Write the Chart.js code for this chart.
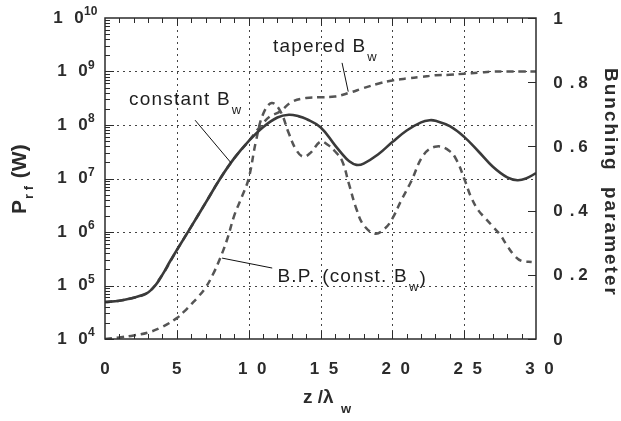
<!DOCTYPE html>
<html>
<head>
<meta charset="utf-8">
<script src="https://cdn.jsdelivr.net/npm/chart.js@4.4.1/dist/chart.umd.min.js"></script>
<style>
  html, body { margin: 0; padding: 0; background: #fff; }
</style>
</head>
<body>
<canvas id="myChart" width="621" height="421"></canvas>
<script>
// z / lambda_w positions and values
var zConst = [0,1,2,2.5,3,3.5,4,4.5,5,6,7,8,9,10,11,12,12.8,13.5,14,15,16,16.5,17,17.5,18,19,20,21,22,22.6,23,24,25,26,27,28,28.7,29.3,30];
var pConst = [4.9e4,5.2e4,5.9e4,6.5e4,7.4e4,1.0e5,1.6e5,2.75e5,4.6e5,1.26e6,3.5e6,9.8e6,2.4e7,5.0e7,9.1e7,1.38e8,1.55e8,1.45e8,1.3e8,9.1e7,4.2e7,2.9e7,2.1e7,1.8e7,1.9e7,2.8e7,4.8e7,7.9e7,1.12e8,1.23e8,1.2e8,9.5e7,6.0e7,3.2e7,1.66e7,1.05e7,9.3e6,1.0e7,1.26e7];

var zTaper = [0,1,2,3,4,5,6,7,8,9,10,10.5,11,11.5,12.2,13,14,15,16,17,18,19,20,21,22,23,24,25,26,27,28,29,30];
var pTaper = [4.9e4,5.2e4,5.9e4,7.4e4,1.6e5,4.6e5,1.26e6,3.5e6,9.8e6,2.4e7,5.0e7,7.4e7,1.08e8,1.45e8,1.8e8,2.7e8,3.2e8,3.3e8,3.4e8,4.0e8,4.9e8,5.9e8,6.8e8,7.4e8,7.9e8,8.5e8,8.7e8,9.1e8,9.5e8,1.0e9,1.0e9,1.0e9,1.0e9];

var zBunch = [0,1,2,3,4,5,5.5,6,6.5,7,7.5,8,8.5,9,9.5,10,10.5,11,11.6,12.2,12.8,13.3,13.8,14.3,15,15.5,16,16.5,17,17.5,18,18.8,19.5,20,20.6,21.3,22.2,23.1,24,24.5,25,25.5,26,26.5,27,27.5,28,28.5,29,29.7];
var bunch = [0,0.005,0.011,0.02,0.038,0.065,0.085,0.108,0.132,0.16,0.2,0.25,0.31,0.385,0.44,0.5,0.615,0.7,0.735,0.71,0.64,0.59,0.568,0.58,0.615,0.605,0.585,0.555,0.48,0.405,0.355,0.328,0.345,0.375,0.43,0.49,0.575,0.6,0.585,0.555,0.5,0.44,0.4,0.375,0.35,0.325,0.29,0.26,0.243,0.24];

// tick labels
var xTicks = [0, 5, 10, 15, 20, 25, 30];
var yExponents = [4, 5, 6, 7, 8, 9, 10];
var y2Ticks = [0, 0.2, 0.4, 0.6, 0.8, 1];
var y2Labels = ["0", "0 . 2", "0 . 4", "0 . 6", "0 . 8", "1"];

function pts(xs, ys) {
  return xs.map(function (x, i) { return { x: x, y: ys[i] }; });
}

var INK = "#2b2b2b";
var FONT = '"Liberation Sans", Arial, sans-serif';

// helper: text with a subscript, then optional trailing text
function subText(ctx, x, y, main, sub, tail, size, spacing) {
  ctx.font = size + "px " + FONT;
  ctx.letterSpacing = spacing;
  ctx.fillText(main, x, y);
  var w = ctx.measureText(main).width;
  ctx.font = Math.round(size * 0.7) + "px " + FONT;
  ctx.fillText(sub, x + w + 1, y + 9);
  var ws = ctx.measureText(sub).width;
  if (tail) {
    ctx.font = size + "px " + FONT;
    ctx.fillText(tail, x + w + ws + 1, y + 2);
  }
  ctx.letterSpacing = "0px";
}

var paper = {
  id: "paper",
  beforeDatasetsDraw: function (chart) {
    var ctx = chart.ctx, a = chart.chartArea;
    var x = chart.scales.x, y = chart.scales.y;
    ctx.save();
    ctx.strokeStyle = "#444";
    ctx.lineWidth = 1;
    ctx.setLineDash([2, 4]);
    [5, 10, 15, 20, 25].forEach(function (v) {
      var px = Math.round(x.getPixelForValue(v)) + 0.5;
      ctx.beginPath(); ctx.moveTo(px, a.top); ctx.lineTo(px, a.bottom); ctx.stroke();
    });
    [5, 6, 7, 8, 9].forEach(function (e) {
      var py = Math.round(y.getPixelForValue(Math.pow(10, e))) + 0.5;
      ctx.beginPath(); ctx.moveTo(a.left, py); ctx.lineTo(a.right, py); ctx.stroke();
    });
    ctx.restore();
  },
  afterDatasetsDraw: function (chart) {
    var ctx = chart.ctx, a = chart.chartArea;
    var x = chart.scales.x, y = chart.scales.y, y2 = chart.scales.y2;
    ctx.save();
    ctx.setLineDash([]);
    ctx.strokeStyle = INK;

    // frame
    ctx.lineWidth = 1.5;
    ctx.strokeRect(a.left, a.top, a.right - a.left, a.bottom - a.top);

    // minor ticks on x (top and bottom)
    ctx.lineWidth = 1;
    for (var i = 1; i < 30; i++) {
      var px = Math.round(x.getPixelForValue(i)) + 0.5;
      var len = i % 5 === 0 ? 8 : 5;
      ctx.beginPath();
      ctx.moveTo(px, a.bottom); ctx.lineTo(px, a.bottom - len);
      ctx.moveTo(px, a.top); ctx.lineTo(px, a.top + len);
      ctx.stroke();
    }
    // log ticks on the left
    for (var e = 4; e < 10; e++) {
      for (var m = 1; m <= 9; m++) {
        var py = Math.round(y.getPixelForValue(m * Math.pow(10, e))) + 0.5;
        var l = m === 1 ? 9 : 5;
        ctx.beginPath(); ctx.moveTo(a.left, py); ctx.lineTo(a.left + l, py); ctx.stroke();
      }
    }
    // right axis ticks
    y2Ticks.forEach(function (v) {
      var py = Math.round(y2.getPixelForValue(v)) + 0.5;
      ctx.beginPath(); ctx.moveTo(a.right, py); ctx.lineTo(a.right - 8, py); ctx.stroke();
    });

    ctx.fillStyle = INK;
    ctx.textBaseline = "middle";

    // left tick labels 1 0^n
    yExponents.forEach(function (e) {
      var py = y.getPixelForValue(Math.pow(10, e));
      var sh = e >= 10 ? -4 : 0;
      ctx.font = "bold 17px " + FONT;
      ctx.textAlign = "center";
      ctx.fillText("1", 62 + sh, py);
      ctx.fillText("0", 83 + sh, py);
      ctx.font = "bold 12px " + FONT;
      ctx.textAlign = "left";
      ctx.fillText(String(e), 88 + sh, py - 6);
    });

    // bottom tick labels
    ctx.font = "bold 17px " + FONT;
    ctx.textAlign = "center";
    xTicks.forEach(function (v) {
      var px = x.getPixelForValue(v);
      var s = String(v);
      if (s.length === 1) {
        ctx.fillText(s, px, 369);
      } else {
        ctx.fillText(s[0], px - 6, 369);
        ctx.fillText(s[1], px + 13, 369);
      }
    });

    // right tick labels
    y2Ticks.forEach(function (v, i) {
      var py = y2.getPixelForValue(v);
      var s = y2Labels[i];
      if (s.length === 1) {
        ctx.fillText(s, 558, py + 1);
      } else {
        ctx.fillText(s[0], 558, py + 1);
        ctx.fillText(".", 572, py + 1);
        ctx.fillText(s[4], 583, py + 1);
      }
    });

    // axis titles
    ctx.textAlign = "left";
    ctx.textBaseline = "alphabetic";
    ctx.font = "bold 19px " + FONT;
    ctx.fillText("z /\u03bb", 303, 403);
    ctx.font = "bold 13px " + FONT;
    ctx.fillText("w", 341, 413);

    // left title, reading upward
    ctx.save();
    ctx.translate(26, 214);
    ctx.rotate(-Math.PI / 2);
    ctx.font = "bold 21px " + FONT;
    ctx.fillText("P", 0, 0);
    var wp = ctx.measureText("P").width;
    ctx.font = "bold 13px " + FONT;
    ctx.fillText("r f", wp + 1, 7);
    var wr = ctx.measureText("r f").width;
    ctx.font = "bold 21px " + FONT;
    ctx.fillText(" (W)", wp + wr + 3, 0);
    ctx.restore();

    // right title, reading downward
    ctx.save();
    ctx.translate(605, 68);
    ctx.rotate(Math.PI / 2);
    ctx.font = "bold 19px " + FONT;
    ctx.letterSpacing = "2px";
    ctx.fillText("Bunching", 0, 0);
    ctx.fillText("parameter", 119, 0);
    ctx.letterSpacing = "0px";
    ctx.restore();

    // annotations, anchored in data space
    ctx.fillStyle = "#1e1e1e";
    ctx.strokeStyle = "#111";
    ctx.lineWidth = 1;
    function line(x1, v1, x2, v2, sc) {
      ctx.beginPath();
      ctx.moveTo(x.getPixelForValue(x1), sc.getPixelForValue(v1));
      ctx.lineTo(x.getPixelForValue(x2), sc.getPixelForValue(v2));
      ctx.stroke();
    }
    line(6.27, 1.23e8, 8.78, 1.95e7, y);
    line(16.5, 1.45e9, 16.93, 4.2e8, y);
    line(8.15, 0.252, 11.64, 0.221, y2);

    subText(ctx, x.getPixelForValue(1.67), y.getPixelForValue(2.4e8), "constant B", "w", "", 19, "1.2px");
    subText(ctx, x.getPixelForValue(11.7), y.getPixelForValue(2.3e9), "tapered B", "w", "", 19, "1.2px");
    subText(ctx, x.getPixelForValue(12.0), y2.getPixelForValue(0.178), "B.P. (const. B", "w", ")", 19, "1.2px");

    ctx.restore();
  }
};

var ctx = document.getElementById("myChart").getContext("2d");
var chart = new Chart(ctx, {
  type: "line",
  data: {
    datasets: [
      {
        label: "constant Bw",
        data: pts(zConst, pConst),
        yAxisID: "y",
        borderColor: "#3a3a3a",
        borderWidth: 2.6,
        pointRadius: 0,
        tension: 0.4
      },
      {
        label: "tapered Bw",
        data: pts(zTaper, pTaper),
        yAxisID: "y",
        borderColor: "#555",
        borderWidth: 2.5,
        borderDash: [7, 5],
        pointRadius: 0,
        tension: 0.4
      },
      {
        label: "B.P. (const. Bw)",
        data: pts(zBunch, bunch),
        yAxisID: "y2",
        borderColor: "#555",
        borderWidth: 2.5,
        borderDash: [7, 5],
        pointRadius: 0,
        tension: 0.4
      }
    ]
  },
  options: {
    responsive: false,
    animation: false,
    layout: { padding: { top: 18, left: 0, right: 0, bottom: 0 } },
    plugins: { legend: { display: false }, tooltip: { enabled: false } },
    scales: {
      x: {
        type: "linear", min: 0, max: 30,
        ticks: { display: false }, grid: { display: false }, border: { display: false },
        afterFit: function (s) { s.height = 82; }
      },
      y: {
        type: "logarithmic", position: "left", min: 1e4, max: 1e10,
        ticks: { display: false }, grid: { display: false }, border: { display: false },
        afterFit: function (s) { s.width = 105; }
      },
      y2: {
        type: "linear", position: "right", min: 0, max: 1,
        ticks: { display: false }, grid: { display: false }, border: { display: false },
        afterFit: function (s) { s.width = 85; }
      }
    }
  },
  plugins: [paper]
});
</script>
</body>
</html>
